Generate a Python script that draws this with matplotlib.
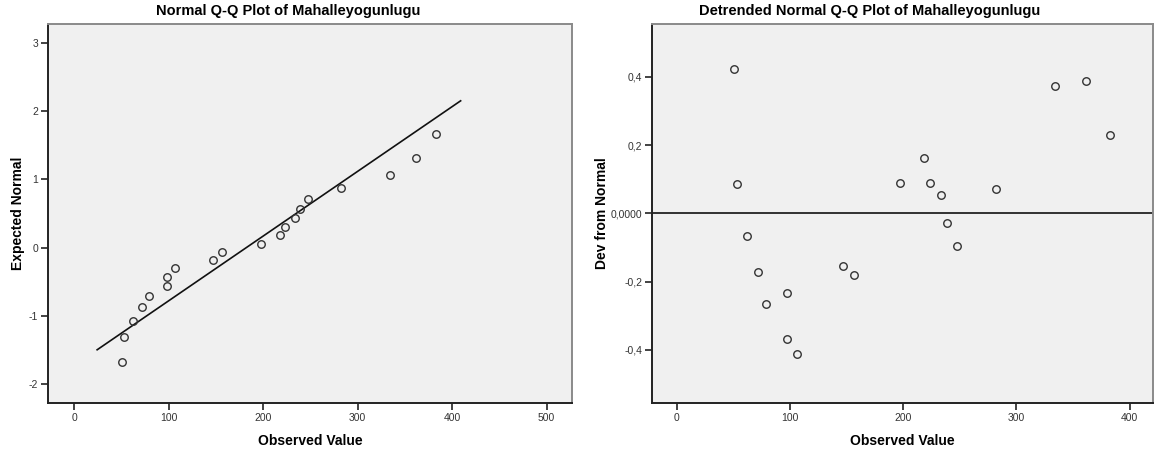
import numpy as np
import matplotlib
matplotlib.use("Agg")
import matplotlib.pyplot as plt

plt.rcParams['font.family'] = ['Liberation Sans', 'DejaVu Sans']

# Observed values of Mahalleyogunlugu (sorted)
observed = [50.6, 52.9, 62.3, 71.4, 78.8, 97.6, 97.6, 106.4, 146.6, 156.7,
            197.6, 218.0, 223.5, 233.2, 238.8, 247.2, 282.2, 334.5, 361.4, 382.5]
# Expected normal scores
expected = [-1.668, -1.309, -1.068, -0.876, -0.712, -0.566, -0.431, -0.303,
            -0.180, -0.060, 0.060, 0.180, 0.303, 0.431, 0.566, 0.712,
            0.876, 1.068, 1.309, 1.668]
# Deviation from normal (detrended)
deviation = [0.424, 0.087, -0.066, -0.173, -0.266, -0.234, -0.368, -0.413,
             -0.154, -0.180, 0.089, 0.161, 0.088, 0.054, -0.028, -0.095,
             0.072, 0.374, 0.387, 0.230]

left_xticks = [0, 100, 200, 300, 400, 500]
left_yticks = [-2, -1, 0, 1, 2, 3]
right_xticks = [0, 100, 200, 300, 400]
right_yticks = [-0.4, -0.2, 0.0, 0.2, 0.4]
right_yticklabels = ['-0,4', '-0,2', '0,0000', '0,2', '0,4']

W, H = 1156, 454
fig = plt.figure(figsize=(W / 100, H / 100), dpi=100)

bg = '#f0f0f0'
dark = '#222222'
light = '#8a8a8a'


def style_axes(ax):
    ax.set_facecolor(bg)
    for side in ('left', 'bottom'):
        ax.spines[side].set_color(dark)
        ax.spines[side].set_linewidth(1.4)
    for side in ('top', 'right'):
        ax.spines[side].set_color(light)
        ax.spines[side].set_linewidth(1.4)
    ax.tick_params(direction='out', length=5, width=1.2, color=dark,
                   labelsize=7.5, labelcolor='#333333', pad=2)


marker_kw = dict(marker='o', linestyle='none', markersize=5.4,
                 markerfacecolor='none', markeredgecolor='#333333',
                 markeredgewidth=1.0, zorder=3)
title_kw = dict(fontsize=10.5, fontweight='bold', ha='center', va='center')
label_kw = dict(fontsize=10, fontweight='bold')

# ---- Normal Q-Q plot ----
ax1 = fig.add_axes([48 / W, 1 - 403 / H, (572 - 48) / W, (403 - 23.7) / H])
style_axes(ax1)
obs = np.array(observed)
mu = obs.mean()
sd = obs.std(ddof=1)
span = obs.max() - obs.min()
line_x = np.array([obs.min() - 0.08 * span, obs.max() + 0.08 * span])
ax1.plot(line_x, (line_x - mu) / sd, color='#111111', linewidth=1.2, zorder=2)
ax1.plot(observed, expected, **marker_kw)
ax1.set_xlim(-28, 527)
ax1.set_ylim(-2.274, 3.278)
ax1.set_xticks(left_xticks)
ax1.set_yticks(left_yticks)
ax1.set_yticklabels([str(v) for v in left_yticks])
fig.text(288 / W, 1 - 11.5 / H, 'Normal Q-Q Plot of Mahalleyogunlugu', **title_kw)
ax1.set_xlabel('Observed Value', labelpad=8, **label_kw)
ax1.set_ylabel('Expected Normal', labelpad=2.5, **label_kw)

# ---- Detrended Normal Q-Q plot ----
ax2 = fig.add_axes([652 / W, 1 - 403 / H, (1153.3 - 652) / W, (403 - 23.7) / H])
style_axes(ax2)
ax2.axhline(0, color='#111111', linewidth=1.2, zorder=2)
ax2.plot(observed, deviation, **marker_kw)
ax2.set_xlim(-22, 421)
ax2.set_ylim(-0.556, 0.556)
ax2.set_xticks(right_xticks)
ax2.set_yticks(right_yticks)
ax2.set_yticklabels(right_yticklabels)
fig.text(870 / W, 1 - 11.5 / H, 'Detrended Normal Q-Q Plot of Mahalleyogunlugu',
         **title_kw)
ax2.set_xlabel('Observed Value', labelpad=8, **label_kw)
ax2.set_ylabel('Dev from Normal', labelpad=1.0, **label_kw)

fig.savefig('out.png', dpi=100, facecolor='white')
